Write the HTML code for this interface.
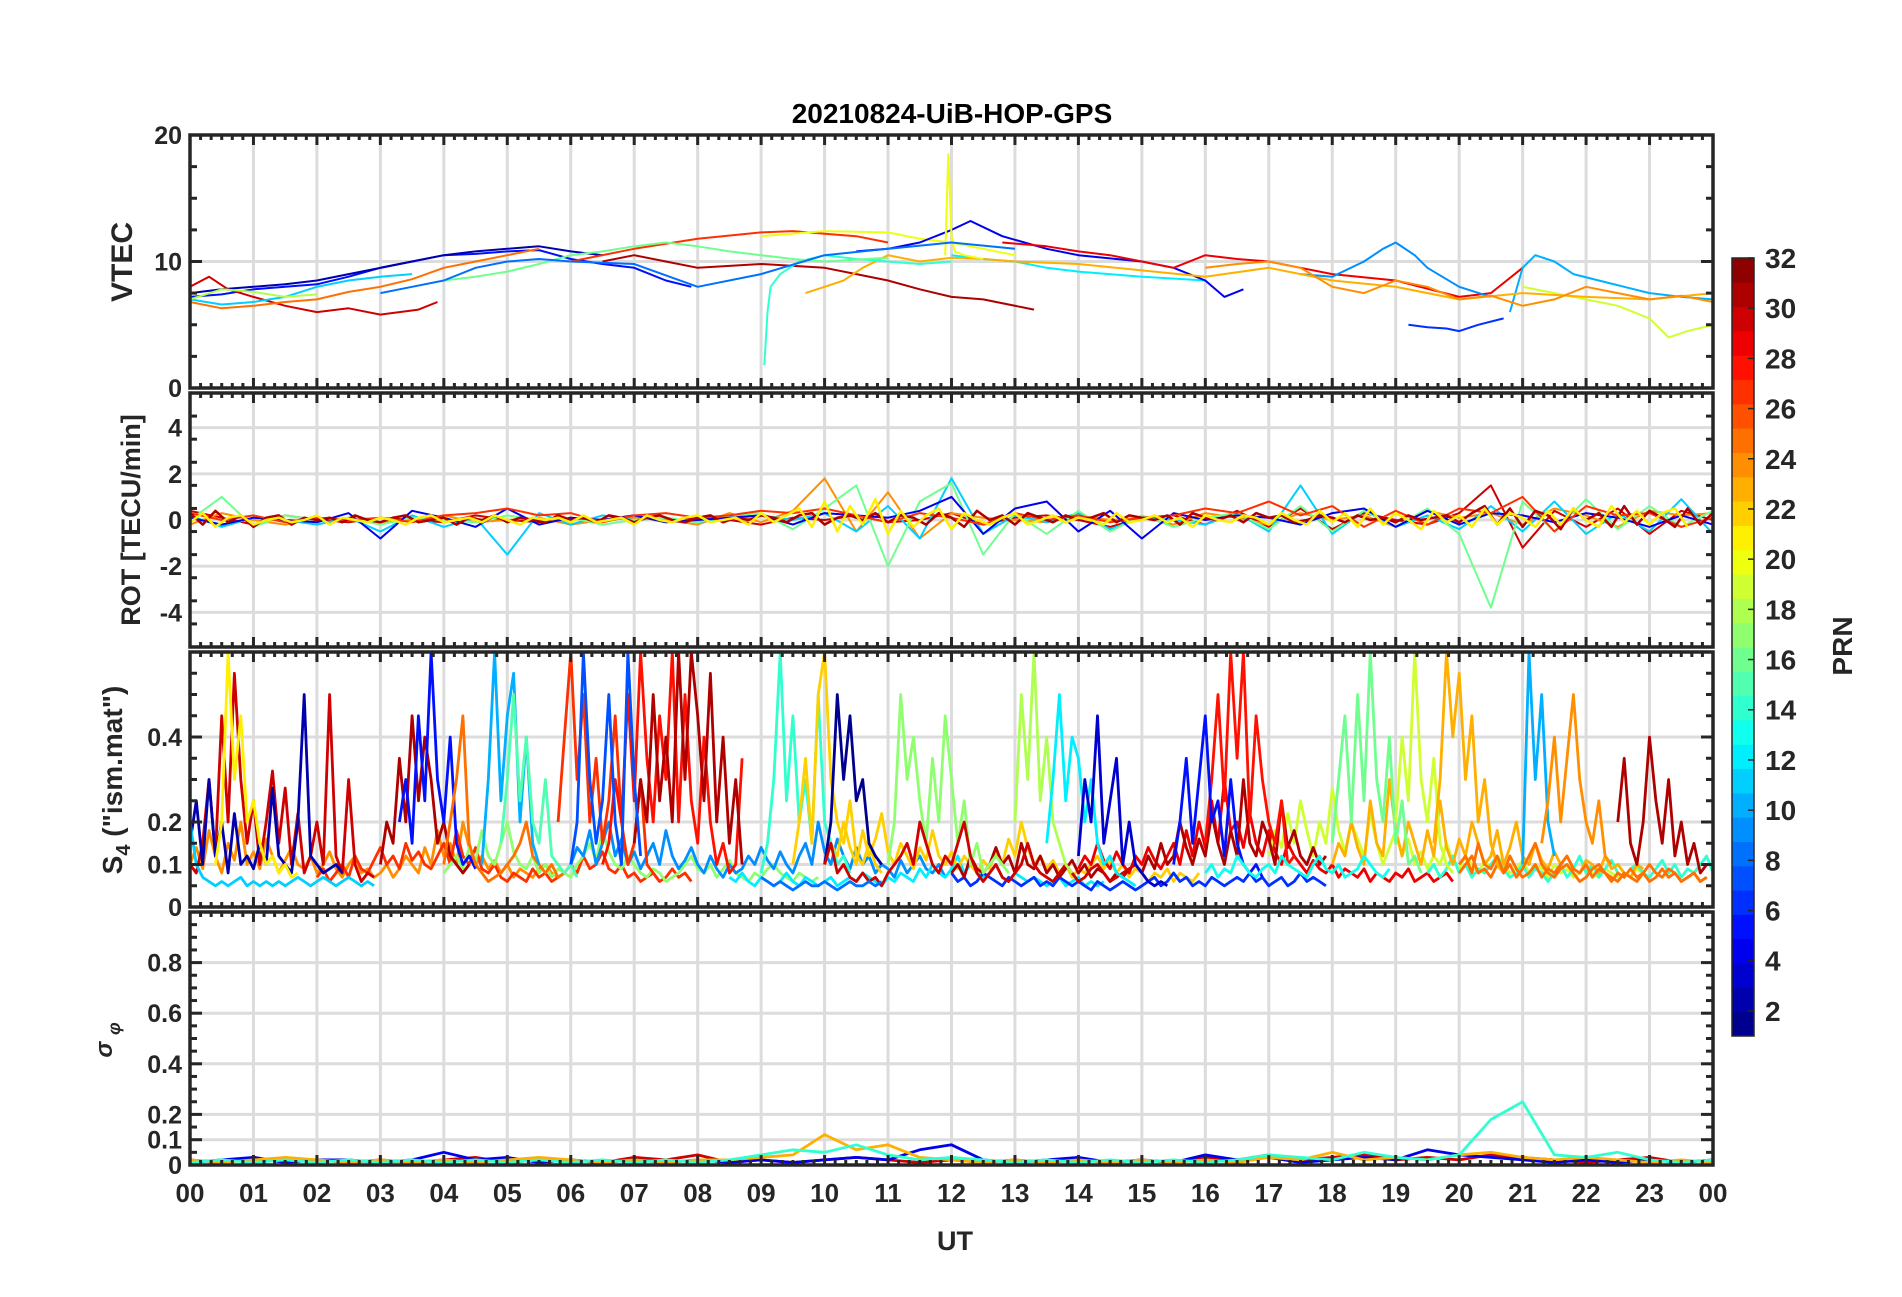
<!DOCTYPE html>
<html><head><meta charset="utf-8"><style>
body{margin:0;background:#fff;}
svg text{font-family:"Liberation Sans",Arial,sans-serif;font-weight:bold;fill:#262626;}
</style></head><body>
<svg id="chart" width="1902" height="1292" xmlns="http://www.w3.org/2000/svg">
<rect width="1902" height="1292" fill="#fff"/>
<defs id="defs"></defs>
<text x="952" y="123" font-size="28" text-anchor="middle" style="fill:#000">20210824-UiB-HOP-GPS</text>
<g id="layer"></g>
</svg>
<script>
// ---- data ----
const hourLabels = ["00","01","02","03","04","05","06","07","08","09","10","11","12","13","14","15","16","17","18","19","20","21","22","23","00"];
const prnTicks = [2,4,6,8,10,12,14,16,18,20,22,24,26,28,30,32];
const vtecTicks = [0,10,20];
const rotTicks = [-4,-2,0,2,4];
const s4Ticks = [0,0.1,0.2,0.4];
const sigTicks = [0,0.1,0.2,0.4,0.6,0.8];

// VTEC series: prn, times (h), values (TECU)
const vtecPrn = [5,2,30,25,11,18,27,20,31,12,4,29,9,6,10,19,23,14,20,16,8,24];
const vtecT = [
 [0,0.5,1,1.5,2,2.5,3,3.5,4,4.5,5,5.5,6,6.5,7,7.5,7.9],
 [0,0.5,1,1.5,2,2.5,3,3.5,4,4.5,5,5.5,6,6.5],
 [0,0.3,0.6,1,1.5,2,2.5,3,3.3,3.6,3.9],
 [0,0.5,1,1.5,2,2.5,3,3.5,4,4.5,5,5.5],
 [0,0.5,1,1.5,2,2.5,3,3.5],
 [0,0.5,1,1.5,2],
 [6,7,8,9,9.5,10,10.5,11],
 [9,10,11,11.5,12,12.5,13],
 [6.5,7,7.5,8,9,10,10.5,11,11.5,12,12.5,13.3],
 [12,12.5,13,13.5,14,15,16],
 [10.5,11,11.5,12,12.3,12.8,13.5,14,15,15.5,16,16.3,16.6],
 [12.8,13.5,14,14.5,15,15.5,16,16.5,17,17.5,18,19,20,20.5,21],
 [17.5,18,18.5,18.8,19,19.3,19.5,20,20.5],
 [19.2,19.5,19.8,20,20.3,20.7],
 [20.8,21,21.2,21.5,21.8,22.2,22.6,23,23.5,24],
 [21,21.5,22,22.5,23,23.3,23.6,24],
 [9.7,10,10.3,10.6,11,11.5,12,12.5,13,14,15,16,17,18,19,20,21,22,23,24],
 [9.05,9.1,9.15,9.3,9.6,10,10.5,11,11.5,12],
 [11.9,11.95,12.0,12.05,12.2,12.5],
 [4,4.5,5,5.5,6,6.5,7,7.5,8,8.5,9,9.5,10,11],
 [3,3.5,4,4.5,5,5.5,6,7,8,9,10,11,12,13],
 [16,16.5,17,17.5,18,18.5,19,19.5,20,20.5,21,21.5,22,22.5,23,23.5,24]
];
const vtecV = [
 [7.2,7.4,7.8,8,8.2,8.8,9.5,10,10.5,10.6,10.8,10.9,10.2,9.8,9.5,8.5,8],
 [7.5,7.8,8,8.2,8.5,9,9.5,10,10.5,10.8,11,11.2,10.8,10.5],
 [8,8.8,7.8,7.2,6.5,6,6.3,5.8,6,6.2,6.8],
 [6.8,6.3,6.5,6.8,7,7.6,8,8.6,9.5,10,10.5,11],
 [7,6.6,6.8,7.2,8,8.5,8.8,9],
 [7,7.8,7.6,7.2,7.4],
 [10,11,11.8,12.3,12.4,12.2,12,11.5],
 [12,12.4,12.3,11.8,11.5,11,10.5],
 [10,10.5,10,9.5,9.8,9.5,9,8.5,7.8,7.2,7,6.2],
 [10.5,10.2,10,9.5,9.2,8.8,8.5],
 [10.8,11,11.5,12.5,13.2,12,11,10.5,10,9.5,8.5,7.2,7.8],
 [11.5,11.2,10.8,10.5,10,9.5,10.5,10.2,10,9.5,9,8.5,7.2,7.5,9.5],
 [9,8.8,10,11,11.5,10.5,9.5,8,7.2],
 [5,4.8,4.7,4.5,5,5.5],
 [6,9.5,10.5,10,9,8.5,8,7.5,7.2,7],
 [8,7.5,7,6.5,5.5,4,4.5,5],
 [7.5,8,8.5,9.5,10.5,10,10.3,10.2,10,9.8,9.3,8.8,9.5,8.5,8,7,7.5,7.2,7,7.5],
 [1.8,6,8,9,10,10.5,10.2,10,9.8,10],
 [10.5,18.5,12,10.8,10.5,10.2],
 [8.5,8.8,9.2,9.8,10.5,10.8,11.2,11.5,11.2,10.8,10.5,10.2,10,10.3],
 [7.5,8,8.5,9.5,10,10.2,10,9.8,8,9,10.5,11,11.5,11],
 [9.5,9.8,10,9.5,8,7.5,8.5,8,7,7.3,6.5,7,8,7.5,7,7.3,6.8]
];

// ROT series: values every 0.5 h from 0 to 24
const rotPrn = [30,24,11,16,4,27];
const rotStep = 0.5;
const rotV = [
 [0.4,0.1,-0.2,0.2,0,-0.1,0.1,0,-0.1,0.2,0,-0.1,0.1,0,0.2,-0.1,0.1,0,-0.2,0.1,0,0.2,-0.1,0,0.3,-0.2,0.1,0.2,0,-0.3,0.1,0.2,-0.2,0.4,-0.3,0.5,-0.4,0.3,0,-0.2,0.3,1.5,-1.2,0.4,-0.3,0.5,-0.6,0.4,0],
 [-0.2,0.3,0,-0.2,0.1,0,-0.1,0,0.2,-0.1,0,0.1,-0.2,0,0.1,0,-0.2,0.3,-0.1,0.4,1.8,-0.5,1.2,-0.8,0.3,0.1,0,-0.1,0.2,0,0.1,-0.2,0.3,0.1,-0.2,0.3,0,0.2,-0.3,0.4,0.1,0.3,-0.2,0.5,0.2,-0.3,0.4,0.2,0.3],
 [0.2,-0.3,0.1,0,-0.2,0.1,-0.5,0.2,-0.3,0.1,-1.5,0.3,-0.2,0.2,0,0.1,-0.1,0.1,0.2,0,0.3,-0.5,0.6,-0.8,1.8,-0.6,0.2,-0.1,0.3,-0.4,0.1,0,-0.2,0.3,-0.5,1.5,-0.6,0.4,-0.3,0.2,-0.4,0.6,-0.5,0.8,-0.6,0.3,-0.5,0.9,-0.6],
 [0,1,-0.3,0.2,0,0.1,-0.2,0.1,0,-0.1,0.2,0,0.1,-0.2,0,0.1,-0.1,0.2,0.3,-0.4,0.5,1.5,-2,0.8,1.6,-1.5,0.3,-0.6,0.4,-0.5,0.2,-0.3,0.1,0.3,-0.4,0.6,-0.5,0.4,-0.3,0.5,-0.6,-3.8,0.8,-0.5,0.9,-0.4,0.6,-0.3,0.4],
 [0.1,-0.2,0.1,0,-0.1,0.3,-0.8,0.4,0.1,-0.3,0.5,-0.2,0.1,0,0.2,-0.1,0,0.1,0.2,-0.2,0.3,0.2,0.1,0.4,1,-0.6,0.5,0.8,-0.5,0.4,-0.8,0.3,0,0.2,0.1,-0.2,0.3,0.5,-0.3,0.4,-0.2,0.3,0.2,-0.1,0.3,0.1,-0.3,0.2,-0.2],
 [0.3,0,0.2,-0.1,0.1,0,0.1,-0.1,0.2,0.3,0.5,0.2,0.3,-0.1,0.2,0.3,0.1,0.2,0.4,0.3,0.5,0.2,-0.1,0.3,0.1,-0.2,0.3,0,0.2,-0.1,0.1,0.2,0.5,0.3,0.8,0.2,0.6,-0.3,0.4,-0.2,0.5,0.3,1,-0.5,0.6,0.2,0.3,-0.3,0.1]
];
// extra dense ROT noise: values every 0.2 h from 0
const rotDensePrn = [31,21];
const rotDenseStep = 0.2;
const rotDenseV = [
 [0.3,-0.2,0.4,-0.1,0.2,-0.3,0.1,0.2,-0.2,0.1,0,0.1,-0.1,0.2,0,-0.1,0.1,0.2,-0.1,0,0.1,-0.2,0.1,0,0.2,-0.1,0.1,0,-0.1,0.2,0,0.1,-0.1,0.2,0.1,-0.1,0.1,0.2,0,-0.1,0.1,0.2,-0.1,0.1,0,0.2,0.1,-0.1,0.2,0.3,-0.2,0.1,0.2,0,0.3,-0.1,0.2,0.1,-0.2,0.3,0.1,-0.3,0.4,0,0.2,-0.2,0.3,0.1,-0.1,0.2,0,0.1,0.3,-0.1,0.2,0.1,0,0.2,-0.2,0.3,0.1,0,0.2,-0.1,0.3,0.1,0.2,-0.1,0,0.2,0.1,-0.1,0.2,0,0.1,-0.1,0.2,0,0.1,0.2,-0.1,0.3,0.6,-0.2,0.5,-0.3,0.4,0.2,-0.4,0.5,0,0.3,-0.3,0.6,-0.2,0.4,0.1,-0.3,0.5,-0.2,0.3],
 [-0.1,0.3,-0.3,0.1,0.2,-0.2,0,0.1,-0.1,0,0.2,-0.2,0.1,0,-0.1,0.1,0,-0.2,0.1,0.2,-0.1,0,0.1,-0.1,0.2,0,-0.2,0.1,0,0.1,-0.1,0.2,-0.1,0,0.1,-0.2,0.2,0,-0.1,0.1,0.2,-0.1,0,0.1,-0.2,0.3,-0.1,0.2,0.5,-0.3,0.8,-0.5,0.6,-0.2,0.9,-0.6,0.4,-0.3,0.2,0.5,-0.4,0.3,0,-0.2,0.1,0.3,-0.2,0,0.2,-0.1,0.1,0,-0.2,0.3,-0.1,0,0.2,-0.1,0.1,-0.3,0.2,0,-0.1,0.2,0.1,-0.2,0.3,0,-0.2,0.4,-0.1,0.3,-0.3,0.5,-0.2,0.3,0,-0.4,0.4,-0.1,0.2,-0.3,0.5,-0.2,0.3,0.1,-0.3,0.4,-0.2,0.5,0,-0.3,0.6,-0.1,0.4,-0.2,0.3,0.5,-0.3]
];

// S4 series: prn, start hour, values every 0.1 h
const s4Prn = [24,27,17,9,12,22,6,29,19,14,23,31,25,
 30,2,21,11,31,5,25,10,15,27,28,31,7,14,22,1,17,30,18,12,3,28,5,16,19,23,10,24,31,13,25,8];
const s4Start = [0,2,4,6,8.5,10,12,14,17,19.5,18,12,20,
 0,0,0.4,0,3.0,3.3,4.0,4.6,4.9,5.8,6.5,7.0,6.0,9.0,9.5,10.0,11.0,10.0,13.0,13.5,14.0,16.0,15.5,18.0,19.0,19.6,21.0,21.3,22.5,16.0,20.0,9.0];
const s4V = [
 [0.1,0.14,0.09,0.18,0.12,0.08,0.15,0.11,0.2,0.1,0.13,0.09,0.16,0.12,0.08,0.11,0.14,0.1,0.09,0.12,0.08,0.1,0.13,0.09,0.07,0.1,0.12,0.08,0.09,0.07,0.08,0.1,0.07,0.09,0.12,0.1,0.08,0.14,0.1,0.18,0.12,0.15,0.1,0.2,0.14,0.1,0.12,0.09,0.11,0.08,0.1,0.07,0.09,0.08,0.07,0.09,0.1,0.08,0.07,0.08],
 [0.07,0.09,0.06,0.08,0.1,0.07,0.12,0.09,0.08,0.11,0.14,0.1,0.12,0.09,0.15,0.11,0.13,0.1,0.09,0.12,0.15,0.1,0.18,0.12,0.1,0.14,0.09,0.08,0.1,0.07,0.06,0.08,0.07,0.06,0.09,0.07,0.08,0.06,0.07,0.08,0.1,0.08,0.12,0.09,0.1,0.13,0.09,0.08,0.1,0.07,0.08,0.06,0.07,0.08,0.06,0.07,0.09,0.07,0.08,0.06],
 [0.08,0.1,0.12,0.09,0.14,0.11,0.18,0.12,0.1,0.15,0.2,0.13,0.1,0.09,0.12,0.08,0.1,0.07,0.09,0.08,0.07,0.1,0.12,0.15,0.11,0.18,0.13,0.1,0.09,0.12,0.1,0.08,0.07,0.09,0.08,0.06,0.07,0.08,0.1,0.12,0.09,0.08,0.1,0.07,0.09,0.11,0.08,0.07,0.06,0.08,0.07,0.09,0.1,0.08,0.07,0.06,0.08,0.07,0.06,0.07],
 [0.1,0.14,0.12,0.18,0.1,0.15,0.2,0.12,0.16,0.1,0.13,0.09,0.12,0.15,0.1,0.18,0.12,0.09,0.11,0.14,0.1,0.08,0.12,0.09,0.07,0.1,0.08,0.09,0.12,0.1,0.14,0.11,0.09,0.13,0.1,0.08,0.12,0.15,0.1,0.2,0.13,0.1,0.16,0.12,0.09,0.14,0.1,0.12,0.08,0.1,0.09,0.07,0.11,0.08,0.1,0.12,0.09,0.08,0.1,0.07],
 [0.07,0.06,0.08,0.06,0.05,0.07,0.06,0.05,0.06,0.08,0.06,0.05,0.07,0.06,0.05,0.06,0.07,0.05,0.06,0.07,0.06,0.08,0.07,0.06,0.05,0.07,0.06,0.08,0.07,0.06,0.09,0.07,0.1,0.08,0.07,0.09,0.12,0.08,0.1,0.09,0.07,0.08,0.1,0.07,0.06,0.08,0.07,0.06,0.07,0.06,0.05,0.06,0.07,0.05,0.06,0.07,0.05,0.06,0.05,0.06],
 [0.1,0.15,0.12,0.2,0.14,0.1,0.18,0.12,0.16,0.22,0.13,0.1,0.15,0.12,0.09,0.14,0.11,0.18,0.12,0.1,0.13,0.09,0.12,0.1,0.08,0.11,0.09,0.13,0.1,0.16,0.12,0.2,0.14,0.1,0.12,0.09,0.11,0.08,0.1,0.07,0.09,0.08,0.1,0.12,0.09,0.11,0.08,0.1,0.07,0.09,0.08,0.06,0.08,0.07,0.09,0.06,0.08,0.07,0.06,0.08],
 [0.08,0.06,0.07,0.05,0.06,0.08,0.07,0.06,0.05,0.07,0.06,0.05,0.06,0.07,0.05,0.06,0.05,0.07,0.06,0.05,0.06,0.05,0.04,0.06,0.05,0.04,0.05,0.06,0.05,0.04,0.05,0.06,0.07,0.05,0.06,0.08,0.06,0.07,0.05,0.06,0.05,0.07,0.06,0.05,0.06,0.07,0.06,0.08,0.06,0.07,0.05,0.06,0.07,0.05,0.06,0.08,0.06,0.07,0.06,0.05],
 [0.09,0.12,0.1,0.15,0.11,0.09,0.13,0.1,0.08,0.12,0.1,0.14,0.11,0.09,0.12,0.15,0.1,0.18,0.12,0.2,0.14,0.25,0.15,0.3,0.18,0.2,0.14,0.22,0.15,0.12,0.18,0.13,0.1,0.15,0.12,0.1,0.08,0.11,0.09,0.08,0.1,0.07,0.09,0.08,0.07,0.09,0.06,0.08,0.07,0.06,0.08,0.07,0.09,0.06,0.07,0.08,0.06,0.07,0.08,0.06],
 [0.12,0.18,0.14,0.22,0.15,0.25,0.18,0.12,0.2,0.15,0.28,0.18,0.13,0.2,0.16,0.12,0.22,0.15,0.1,0.14,0.18,0.12,0.16,0.1,0.13,0.09,0.12,0.1,0.15,0.11,0.09,0.12,0.1,0.08,0.11,0.09,0.12,0.1,0.08,0.09,0.11,0.08,0.1,0.09,0.07,0.1,0.08,0.09,0.07,0.08,0.1,0.08,0.07,0.09,0.08,0.07,0.08,0.07,0.09,0.08],
 [0.08,0.1,0.07,0.09,0.12,0.08,0.1,0.07,0.09,0.08,0.1,0.12,0.09,0.07,0.08,0.1,0.07,0.09,0.08,0.06,0.08,0.1,0.07,0.09,0.12,0.08,0.1,0.07,0.09,0.11,0.08,0.07,0.09,0.1,0.08,0.07,0.09,0.11,0.08,0.1,0.07,0.09,0.08,0.1,0.12,0.08,0.1,0.09,0.07,0.08],
 [0.1,0.15,0.12,0.2,0.14,0.1,0.25,0.15,0.12,0.3,0.18,0.12,0.2,0.15,0.1,0.18,0.12,0.25,0.14,0.1,0.16,0.12,0.2,0.15,0.1,0.12,0.18,0.1,0.14,0.2,0.12,0.1,0.15,0.11,0.09,0.13,0.1,0.12,0.09,0.08,0.11,0.1,0.08,0.12,0.09,0.1,0.08,0.07,0.1,0.09],
 [0.08,0.1,0.07,0.12,0.09,0.08,0.1,0.14,0.1,0.12,0.08,0.15,0.1,0.09,0.12,0.08,0.1,0.07,0.09,0.11,0.08,0.1,0.07,0.09,0.08,0.06,0.08,0.07,0.09,0.1,0.08,0.12,0.09,0.15,0.1,0.12,0.2,0.14,0.1,0.16,0.12,0.22,0.15,0.1,0.18,0.12,0.3,0.15,0.12,0.2,0.16,0.1,0.25,0.14,0.18,0.12,0.1,0.14,0.1,0.12],
 [0.08,0.1,0.12,0.08,0.09,0.07,0.1,0.08,0.12,0.09,0.07,0.08,0.1,0.07,0.09,0.08,0.1,0.12,0.09,0.08,0.1,0.07,0.09,0.08,0.06,0.08,0.07,0.09,0.07,0.08,0.06,0.07,0.09,0.07,0.08,0.06,0.07,0.08,0.06,0.07],
 [0.1,0.08,0.15,0.3,0.12,0.45,0.2,0.55,0.3,0.15,0.25,0.1,0.2,0.32,0.15,0.28,0.1,0.22,0.08,0.12,0.2,0.1,0.5,0.12,0.08,0.3,0.1,0.06,0.08,0.07],
 [0.15,0.25,0.1,0.3,0.12,0.2,0.08,0.22,0.1,0.12,0.09,0.15,0.1,0.28,0.12,0.1,0.08,0.2,0.5,0.12,0.1,0.08,0.09,0.1,0.08],
 [0.1,0.2,0.6,0.3,0.45,0.2,0.25,0.15,0.1,0.12,0.08,0.1,0.07,0.08],
 [0.2,0.1,0.07,0.06,0.05,0.06,0.05,0.06,0.07,0.05,0.06,0.05,0.06,0.05,0.06,0.05,0.06,0.07,0.06,0.05,0.06,0.07,0.06,0.05,0.06,0.07,0.06,0.05,0.06,0.05],
 [0.1,0.2,0.15,0.35,0.2,0.45,0.25,0.4,0.3,0.15,0.2,0.12,0.1,0.08,0.1],
 [0.2,0.3,0.15,0.45,0.25,0.6,0.3,0.2,0.4,0.15,0.1,0.12,0.09],
 [0.1,0.2,0.3,0.45,0.15,0.1,0.08,0.06,0.07,0.08,0.1,0.12,0.15,0.2,0.12,0.1,0.08,0.1,0.07,0.08],
 [0.1,0.3,0.6,0.25,0.45,0.55,0.2,0.4,0.15,0.1],
 [0.15,0.3,0.5,0.25,0.4,0.2,0.15,0.3,0.12,0.1,0.08,0.1,0.07],
 [0.2,0.4,0.6,0.3,0.5,0.2,0.35,0.15,0.25,0.45,0.2,0.1,0.15,0.3,0.1,0.08,0.06],
 [0.1,0.15,0.3,0.2,0.5,0.25,0.6,0.35,0.2,0.45,0.3,0.6,0.2,0.5,0.25,0.15,0.4,0.2,0.1,0.15,0.08,0.1,0.35],
 [0.15,0.3,0.2,0.5,0.25,0.4,0.2,0.6,0.3,0.6,0.45,0.25,0.55,0.2,0.4,0.15,0.3,0.1],
 [0.1,0.2,0.6,0.3,0.15,0.25,0.5,0.2,0.1,0.6,0.3,0.12],
 [0.08,0.15,0.3,0.6,0.25,0.45,0.2,0.3,0.15,0.5,0.2,0.15,0.1,0.12,0.08],
 [0.1,0.2,0.35,0.15,0.5,0.6,0.3,0.2,0.15,0.25,0.12,0.1,0.15,0.1,0.08],
 [0.1,0.2,0.5,0.3,0.45,0.25,0.3,0.15,0.12,0.1],
 [0.1,0.2,0.5,0.3,0.4,0.25,0.15,0.35,0.2,0.45,0.3,0.15,0.25,0.1,0.15,0.08,0.1,0.12,0.1,0.08],
 [0.1,0.15,0.08,0.1,0.07,0.06,0.08,0.06,0.07,0.05,0.08,0.1,0.12,0.15,0.1,0.2,0.15,0.1,0.08,0.12,0.1,0.15,0.2,0.12,0.08,0.06,0.08,0.1,0.07,0.06,0.08,0.1,0.15,0.1,0.08,0.07,0.06,0.08,0.1,0.08,0.06,0.07,0.09,0.1,0.08,0.06,0.07,0.08,0.09,0.1],
 [0.2,0.5,0.3,0.6,0.25,0.4,0.2,0.15,0.1,0.08],
 [0.15,0.3,0.5,0.25,0.4,0.35,0.2,0.3,0.15,0.1,0.12,0.08,0.07,0.06,0.05],
 [0.12,0.3,0.2,0.45,0.15,0.25,0.35,0.1,0.2,0.1,0.08,0.06,0.05,0.06,0.05],
 [0.15,0.3,0.5,0.25,0.6,0.35,0.6,0.2,0.45,0.3,0.2,0.15,0.25,0.1,0.12],
 [0.1,0.2,0.35,0.15,0.3,0.45,0.2,0.25,0.12,0.3,0.15,0.1,0.08,0.1,0.07],
 [0.15,0.3,0.45,0.2,0.5,0.25,0.6,0.3,0.2,0.4,0.15,0.25,0.1,0.12,0.08],
 [0.2,0.4,0.25,0.6,0.3,0.2,0.35,0.15,0.1,0.08],
 [0.15,0.3,0.6,0.4,0.55,0.3,0.45,0.2,0.3,0.15,0.1,0.08],
 [0.1,0.6,0.3,0.5,0.2,0.12],
 [0.15,0.25,0.4,0.2,0.35,0.5,0.3,0.2,0.15,0.25,0.12,0.1],
 [0.2,0.35,0.15,0.1,0.2,0.4,0.25,0.15,0.3,0.12,0.2,0.1,0.15,0.08,0.1],
 [0.08,0.1,0.07,0.09,0.08,0.12,0.1,0.08,0.07,0.09,0.1,0.08,0.12,0.1,0.09,0.08,0.07,0.1,0.12,0.09,0.08,0.1,0.07,0.08,0.09,0.12,0.1,0.08,0.07,0.09],
 [0.1,0.12,0.08,0.15,0.1,0.09,0.12,0.08,0.1,0.07,0.09,0.12,0.15,0.1,0.08,0.07,0.09,0.1,0.08,0.06,0.07,0.09,0.1,0.08,0.07,0.06,0.08,0.07,0.06,0.08,0.1,0.08,0.07,0.09,0.08,0.06,0.07,0.08,0.06,0.07],
 [0.07,0.06,0.05,0.06,0.05,0.04,0.05,0.06,0.05,0.05,0.06,0.05,0.04,0.05,0.06,0.05,0.05,0.06,0.05,0.06]
];

// sigma-phi series: values every 0.5 h from 0 to 24
const sigPrn = [30,4,23,14];
const sigStep = 0.5;
const sigV = [
 [0.02,0.01,0.03,0.01,0.02,0.01,0.02,0.01,0.02,0.03,0.01,0.02,0.02,0.01,0.03,0.02,0.04,0.01,0.02,0.01,0.02,0.03,0.02,0.01,0.02,0.01,0.02,0.01,0.02,0.01,0.02,0.01,0.03,0.02,0.04,0.02,0.03,0.04,0.02,0.03,0.02,0.04,0.03,0.02,0.01,0.02,0.03,0.01,0.02],
 [0.01,0.02,0.03,0.01,0.02,0.02,0.01,0.02,0.05,0.02,0.03,0.01,0.02,0.01,0.02,0.01,0.02,0.01,0.02,0.01,0.02,0.03,0.02,0.06,0.08,0.02,0.01,0.02,0.03,0.01,0.02,0.01,0.04,0.02,0.03,0.01,0.02,0.03,0.02,0.06,0.04,0.03,0.02,0.01,0.02,0.01,0.02,0.01,0.02],
 [0.02,0.01,0.02,0.03,0.02,0.01,0.02,0.01,0.02,0.01,0.02,0.03,0.02,0.01,0.02,0.01,0.02,0.02,0.03,0.04,0.12,0.06,0.08,0.03,0.02,0.01,0.02,0.01,0.02,0.01,0.02,0.01,0.02,0.01,0.03,0.02,0.05,0.02,0.03,0.02,0.04,0.05,0.03,0.02,0.03,0.02,0.01,0.02,0.01],
 [0.01,0.02,0.01,0.02,0.01,0.02,0.01,0.02,0.01,0.02,0.01,0.02,0.01,0.02,0.01,0.02,0.01,0.02,0.04,0.06,0.05,0.08,0.04,0.02,0.03,0.02,0.01,0.02,0.01,0.02,0.01,0.02,0.01,0.02,0.04,0.03,0.02,0.05,0.03,0.02,0.04,0.18,0.25,0.04,0.03,0.05,0.02,0.01,0.02]
];

// ---- drawing ----
const NS = "http://www.w3.org/2000/svg";
const layer = document.getElementById('layer');
const defs = document.getElementById('defs');
const X0 = 190, X1 = 1713;
const xs = t => X0 + t * (X1 - X0) / 24;
function el(tag, attrs, parent){ const e = document.createElementNS(NS, tag); for (const k in attrs) e.setAttribute(k, attrs[k]); (parent||layer).appendChild(e); return e; }
function jet(p){
  const x = (p - 0.5) / 32;
  const c = v => Math.round(255 * Math.max(0, Math.min(1, v)));
  return `rgb(${c(1.5 - Math.abs(4*x - 3))},${c(1.5 - Math.abs(4*x - 2))},${c(1.5 - Math.abs(4*x - 1))})`;
}
const panels = [
  {name:'vtec', top:135, bot:388, min:0, max:20, ticks:vtecTicks, minor:2.5},
  {name:'rot', top:393, bot:647, min:-5.5, max:5.5, ticks:rotTicks, minor:1},
  {name:'s4', top:652, bot:907, min:0, max:0.6, ticks:s4Ticks, minor:0.05},
  {name:'sigma', top:912, bot:1165, min:0, max:1, ticks:sigTicks, minor:0.05}
];
panels.forEach(P => {
  P.y = v => P.bot - (v - P.min) / (P.max - P.min) * (P.bot - P.top);
  const cp = el('clipPath', {id:'clip-' + P.name}, defs);
  el('rect', {x:X0, y:P.top, width:X1 - X0, height:P.bot - P.top}, cp);
});

function drawFrame(P){
  const g = el('g', {});
  
  
  for (let h = 1; h < 24; h++) el('line', {x1:xs(h), x2:xs(h), y1:P.top, y2:P.bot, stroke:'#dcdcdc', 'stroke-width':3}, g);
  P.ticks.forEach(v => { if (v > P.min && v < P.max) el('line', {x1:X0, x2:X1, y1:P.y(v), y2:P.y(v), stroke:'#dcdcdc', 'stroke-width':3}, g); });
}
function drawAxes(P){
  const g = el('g', {});
  
  
  const st = {stroke:'#262626', 'stroke-width':3};
  for (let m = 0; m <= 144; m++) {
    const x = xs(m / 6), L = m % 6 === 0 ? 10 : 5;
    el('line', Object.assign({x1:x, x2:x, y1:P.top, y2:P.top + L}, st), g);
    el('line', Object.assign({x1:x, x2:x, y1:P.bot, y2:P.bot - L}, st), g);
  }
  const n = Math.round((P.max - P.min) / P.minor);
  for (let i = 0; i <= n; i++) {
    const v = P.min + i * P.minor, y = P.y(v);
    const major = P.ticks.some(t => Math.abs(t - v) < 1e-6);
    const L = major ? 12 : 7;
    el('line', Object.assign({x1:X0, x2:X0 + L, y1:y, y2:y}, st), g);
    el('line', Object.assign({x1:X1, x2:X1 - L, y1:y, y2:y}, st), g);
  }
  el('rect', {x:X0, y:P.top, width:X1 - X0, height:P.bot - P.top, fill:'none', stroke:'#262626', 'stroke-width':3.5}, g);
  P.ticks.forEach(v => {
    const t = el('text', {x:X0 - 8, y:P.y(v) + 9, 'font-size':25, 'text-anchor':'end'}, g);
    
    
    t.textContent = (P.name === 's4' || P.name === 'sigma') && v !== 0 ? v.toFixed(1) : String(v);
  });
}
function poly(P, ts, vs, prn, w){
  const pts = ts.map((t, i) => xs(t).toFixed(1) + ',' + P.y(Math.max(P.min, Math.min(P.max, vs[i]))).toFixed(1)).join(' ');
  const p = el('polyline', {points:pts, fill:'none', stroke:jet(prn), 'stroke-width':w, 'stroke-linejoin':'round', 'clip-path':'url(#clip-' + P.name + ')'});
  
  
}
panels.forEach(drawFrame);
vtecPrn.forEach((prn, i) => poly(panels[0], vtecT[i], vtecV[i], prn, 2));
rotPrn.forEach((prn, i) => poly(panels[1], rotV[i].map((_, k) => k * rotStep), rotV[i], prn, 2));
rotDensePrn.forEach((prn, i) => poly(panels[1], rotDenseV[i].map((_, k) => k * rotDenseStep), rotDenseV[i], prn, 2.5));
s4Prn.forEach((prn, i) => poly(panels[2], s4V[i].map((_, k) => s4Start[i] + k * 0.1), s4V[i], prn, 2.8));
sigPrn.forEach((prn, i) => poly(panels[3], sigV[i].map((_, k) => k * sigStep), sigV[i], prn, 2.8));
panels.forEach(drawAxes);

hourLabels.forEach((lab, h) => {
  const t = el('text', {x:xs(h), y:1202, 'font-size':26, 'text-anchor':'middle'});
  
  
  t.textContent = lab;
});
const ut = el('text', {x:955, y:1250, 'font-size':27, 'text-anchor':'middle'});


ut.textContent = 'UT';

function ytitle(txt, x, y, size, name){
  const t = el('text', {x:x, y:y, 'font-size':size, 'text-anchor':'middle', transform:`rotate(-90 ${x} ${y})`});
  
  
  t.textContent = txt;
  return t;
}
ytitle('VTEC', 132, 262, 30, 'vtec-y-axis-title');
ytitle('ROT [TECU/min]', 140, 520, 27, 'rot-y-axis-title');
const s4t = el('text', {x:122, y:780, 'font-size':28, 'text-anchor':'middle', transform:'rotate(-90 122 780)'});


s4t.innerHTML = 'S<tspan font-size="20" dy="8">4</tspan><tspan dy="-8"> ("ism.mat")</tspan>';
const sgt = el('text', {x:112, y:1040, 'font-size':24, 'text-anchor':'middle', transform:'rotate(-90 112 1040)', 'font-style':'italic', 'font-weight':'normal'});


sgt.innerHTML = 'σ <tspan font-size="18" dy="8">φ</tspan>';

const CB = {x:1732, w:22, top:258, bot:1036};
const cb = el('g', {});


const bin = (CB.bot - CB.top) / 32;
for (let p = 1; p <= 32; p++) el('rect', {x:CB.x, y:CB.bot - p * bin, width:CB.w, height:bin + 0.5, fill:jet(p)}, cb);
el('rect', {x:CB.x, y:CB.top, width:CB.w, height:CB.bot - CB.top, fill:'none', stroke:'#262626', 'stroke-width':1.5}, cb);
const cy = v => CB.bot - (v - 1) / 31 * (CB.bot - CB.top);
prnTicks.forEach(v => {
  el('line', {x1:CB.x + CB.w - 6, x2:CB.x + CB.w, y1:cy(v), y2:cy(v), stroke:'#262626', 'stroke-width':1.5}, cb);
  const t = el('text', {x:1765, y:cy(v) + 10, 'font-size':28}, cb);
  
  
  t.textContent = v;
});
ytitle('PRN', 1852, 646, 28, 'colorbar-title');
</script>
</body></html>
